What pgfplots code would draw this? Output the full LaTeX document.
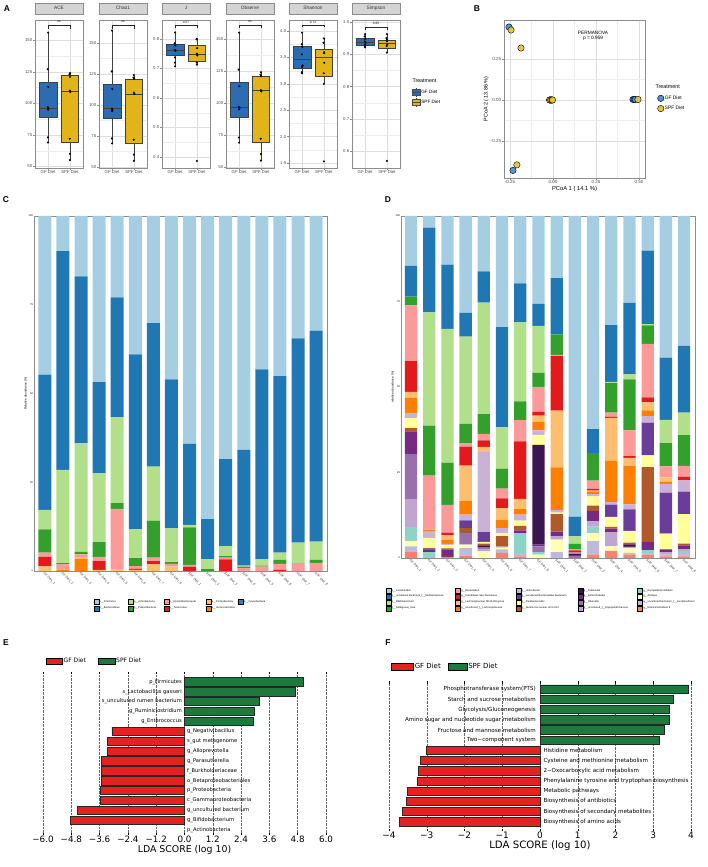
\documentclass[border=0pt]{standalone}
\usepackage{fontspec}
\setmainfont{Liberation Sans}
\newfontfamily\djv{DejaVu Sans}
\usepackage{pgfplots}
\pgfplotsset{compat=1.18}
\usepackage{pgfplotstable}
\usepgfplotslibrary{statistics}
\newcommand\fs[1]{\fontsize{#1}{#1}\selectfont}

\definecolor{gfbox}{HTML}{2B6CB3}
\definecolor{spfbox}{HTML}{E2B418}
\definecolor{gfpt}{HTML}{4C8ED6}
\definecolor{spfpt}{HTML}{E9C23A}
\definecolor{cFi}{HTML}{A6CEE3}
\definecolor{cBa}{HTML}{1F78B4}
\definecolor{cAc}{HTML}{B2DF8A}
\definecolor{cPa}{HTML}{33A02C}
\definecolor{cEp}{HTML}{FB9A99}
\definecolor{cTe}{HTML}{E31A1C}
\definecolor{cPr}{HTML}{FDBF6F}
\definecolor{cVe}{HTML}{FF7F00}
\definecolor{cCy}{HTML}{3A7DB8}
\definecolor{dR9}{HTML}{FB8072}
\definecolor{dUB}{HTML}{BEBADA}
\definecolor{dAL}{HTML}{FFFFB3}
\definecolor{dEC}{HTML}{8DD3C7}
\definecolor{dUE}{HTML}{C2A5CF}
\definecolor{dRK}{HTML}{9970AB}
\definecolor{dEN}{HTML}{762A83}
\definecolor{dDU}{HTML}{3B1550}
\definecolor{dRU}{HTML}{B15928}
\definecolor{dPA}{HTML}{FFFF99}
\definecolor{dBD}{HTML}{6A3D9A}
\definecolor{dHE}{HTML}{CAB2D6}
\definecolor{dUL}{HTML}{FF7F00}
\definecolor{dNK}{HTML}{FDBF6F}
\definecolor{dSA}{HTML}{E31A1C}
\definecolor{dBA}{HTML}{FB9A99}
\definecolor{dAM}{HTML}{33A02C}
\definecolor{dBI}{HTML}{B2DF8A}
\definecolor{dMU}{HTML}{1F78B4}
\definecolor{dLA}{HTML}{A6CEE3}
\definecolor{lred}{HTML}{E42320}
\definecolor{lgreen}{HTML}{1E7A3C}

\pgfplotstableread{
x Ve Pr Te Ep Pa Ac Ba Fi
0 0 1.4 2.6 1.2 6.5 5.5 38.1 44.7
1 0.3 0.3 0 1.3 0.3 26.3 61.6 9.9
2 3.5 0.3 0 0.9 0.7 30.6 47.0 17.0
3 0 0.3 2.5 1.2 4.1 19.4 25.7 46.8
4 0 0.4 0 17.1 1.6 24.2 33.8 22.9
5 0 0.3 0.3 0.8 2.2 8.2 49.2 39.0
6 0 1.9 0.9 1.0 10.4 15.2 40.4 30.2
7 0 1.2 0 0.8 0.5 9.5 42.0 46.0
8 0 0 1.2 0.5 10.6 0.7 22.8 64.2
9 0 0 0 0 0.5 2.8 11.3 85.4
10 0 0 3.3 0.5 0.4 2.8 24.5 68.5
11 0 0 0 0.8 0.4 0.3 32.6 65.9
12 0 0 0 1.2 0.3 1.8 53.5 43.2
13 0 0 0.3 1.7 1.1 2.1 49.7 45.1
14 0 0 0 2.2 0 5.8 57.5 34.5
15 0 0 0 2.3 0.8 5.2 59.4 32.3
}\tabC

\pgfplotstableread{
x R9 UB AL EC UE RK EN DU RU PA BD HE UL NK SA BA AM BI MU LA
0 1.7 1.7 1.5 4.2 8.0 13.3 6.6 0 1.0 2.9 0 1.5 4.4 1.8 9.0 16.3 2.5 0 9.0 14.6
1 0 0 0 1.7 0 0 0.8 0.3 0 3.1 0 2.0 0.3 0.3 0 15.6 14.6 33.1 24.8 3.4
2 0.3 0 0 0 0 0 2.2 0 0.3 1.0 0 0.3 1.3 1.2 0.8 8.1 12.4 39.1 18.8 14.2
3 0.7 2.2 1.0 0 0 3.4 0 0 1.5 0 2.2 1.7 3.9 10.4 5.6 1.0 5.6 25.5 7.0 28.3
4 0 0 1.9 0 0.8 0.5 0 0.5 0.5 0.5 2.9 23.4 0 1.5 1.9 1.9 5.8 32.6 9.1 16.2
5 1.5 1.0 0.5 0 0.3 0 0 0 3.1 0.8 0 1.5 2.4 3.4 2.9 2.9 5.8 12.2 29.2 32.5
6 0.5 1.0 0 5.8 0 0 0.8 0 1.3 1.5 0 1.8 1.7 2.9 16.8 6.2 5.5 23.1 11.4 19.7
7 0 0 1.0 0.7 0 1.7 0.5 29.2 0 2.9 0 1.3 2.6 1.7 1.1 7.3 4.1 13.8 6.4 25.7
8 0 1.7 3.7 0 1.0 0 1.3 0 5.1 0.5 0 0.7 12.5 16.6 15.9 0.4 6.0 0 16.4 18.2
9 0 0 0 0 0 0.4 0.5 0.4 0 0 0 0.3 0 0 0.6 0.4 1.5 2.2 5.8 87.9
10 1.0 3.9 2.4 1.9 1.5 0 3.1 0 1.5 2.7 0 0.7 0.6 0.4 0.5 2.4 8.1 0 7.0 62.3
11 2.1 0 1.3 0 4.2 0 1.0 0 0.5 2.9 3.6 0.7 12.2 12.5 0.3 1.2 8.6 0.4 16.6 31.9
12 1.0 0.5 1.5 0 0 0 0.5 0.5 0.5 3.4 6.3 1.5 11.2 2.4 0.5 7.5 14.9 1.5 20.9 25.4
13 1.0 0.5 0 0.8 0 0 2.4 0 21.9 3.4 9.6 1.9 1.7 2.3 1.5 15.6 5.4 0.4 21.5 10.1
14 0.5 0.5 0 0 0.7 0 0.8 0 0 4.6 12.0 2.6 0.6 1.3 0 3.2 6.8 6.8 18.2 41.4
15 0.5 1.0 0 0.5 0.5 0 1.2 0 0.5 8.6 6.6 3.3 0 0 1.0 3.2 9.0 6.6 19.5 38.0
}\tabD

\tikzset{
  pv/.style={font=\fs{3.2}, inner sep=0pt},
  labE/.style={font=\djv\fs{5.2}, inner sep=0pt},
  labF/.style={font=\djv\fs{5.6}, inner sep=0pt},
}
\pgfplotsset{
  Ast/.style={scale only axis, width=48bp, height=148bp, anchor=south west,
    xmin=0.4, xmax=2.6, xtick={1,2}, xticklabels={GF Diet,SPF Diet},
    tick pos=left, tick align=outside, major tick length=1.6bp, minor tick length=0bp,
    xmajorgrids, ymajorgrids, yminorgrids, minor y tick num=1,
    major grid style={black!13, line width=0.45pt},
    minor grid style={black!7, line width=0.3pt},
    axis line style={black!45, line width=0.45pt},
    tick style={black!45, line width=0.35pt},
    tick label style={font=\fs{4.3}, text=black!70, inner sep=1bp},
    title style={at={(0.5,1)}, anchor=south, yshift=0pt, fill=black!17, draw=black!45, line width=0.45pt, minimum width=48bp, minimum height=11bp, inner sep=0pt, font=\fs{4.8}, text=black!80},
    clip=false},
  gfb/.style={fill=gfbox, draw=black!75, line width=0.4pt, solid},
  spfb/.style={fill=spfbox, draw=black!75, line width=0.4pt, solid},
  dots/.style={only marks, mark=*, mark size=0.85bp, mark options={draw=none, fill=black!85}},
  brk/.style={black!85, line width=0.35pt, mark=none},
  legax/.style={hide axis, scale only axis, width=1bp, height=1bp, at={(0bp,0bp)}, anchor=south west, xmin=0, xmax=1, ymin=0, ymax=1},
  sw/.style={legend image code/.code={\fill (0bp,-2.5bp) rectangle (5bp,2.5bp);}},
  boxkey/.style={legend image code/.code={\draw[black!70, line width=0.4pt] (4bp,-4.5bp)--(4bp,4.5bp); \filldraw[draw=black!70, line width=0.4pt] (0bp,-3bp) rectangle (8bp,3bp); \draw[black!70, line width=0.4pt] (0bp,0bp)--(8bp,0bp);}},
  ptkey/.style={legend image code/.code={\fill (3.3bp,0bp) circle (3.2bp);}},
  barst/.style={scale only axis, anchor=south west, ybar stacked, ymin=0, ymax=100,
    ytick={0,25,50,75,100}, yticklabels={0,25,50,75,100},
    xtick={0,...,15},
    xticklabels={GF Diet\_1,GF Diet\_2,GF Diet\_3,GF Diet\_4,GF Diet\_5,GF Diet\_6,GF Diet\_7,GF Diet\_8,SPF Diet\_1,SPF Diet\_2,SPF Diet\_3,SPF Diet\_4,SPF Diet\_5,SPF Diet\_6,SPF Diet\_7,SPF Diet\_8},
    xticklabel style={rotate=-45, anchor=north west, font=\fs{3.4}, inner sep=0.5bp, text=black!75},
    yticklabel style={font=\fs{2.6}, inner sep=0.8bp},
    tick pos=left, major tick length=1bp,
    axis line style={black!45, line width=0.4pt}, tick style={black!45, line width=0.3pt},
    ylabel style={font=\fs{3.1}, inner sep=0.5bp}},
  lefse/.style={scale only axis, anchor=south west, y dir=reverse, ytick=\empty,
    xmajorgrids, major grid style={densely dotted, black!60, line width=0.45pt},
    axis line style={draw=none}, tick style={black, line width=0.5pt},
    major tick length=2.5bp, tick align=inside, xlabel={LDA SCORE (log 10)}, clip=false},
  lbar/.style={xbar, bar shift=0pt, draw=black!85, line width=0.6pt},
}

\begin{document}
\begin{tikzpicture}
\path[use as bounding box] (0,0) rectangle (708bp,867bp);

% ---------------- Panel A ----------------
\begin{axis}[Ast, at={(35bp,699bp)}, title={ACE}, ymin=48.8, ymax=166, ytick={50,75,100,125,150}, yticklabels={50,75,100,125,150}]
\addplot[gfb, boxplot prepared={draw direction=y, draw position=1, lower whisker=69, lower quartile=89, median=96.5, upper quartile=117, upper whisker=156, box extend=0.8, whisker extend=0}] coordinates {};
\addplot[spfb, boxplot prepared={draw direction=y, draw position=2, lower whisker=55, lower quartile=69, median=110, upper quartile=122, upper whisker=124, box extend=0.8, whisker extend=0}] coordinates {};
\addplot[dots] coordinates {(1.00,156)(0.98,127)(1.01,113)(0.99,97)(1.02,96)(1.00,95)(0.99,73)(1.00,69)(2.00,124)(1.98,123)(2.01,121)(2.00,110)(2.02,109)(1.99,72)(2.00,60)(2.00,55)};
\addplot[brk] coordinates {(1,159)(1,162)(2,162)(2,159)};
\node[pv] at (axis cs:1.5,164.4) {ns};
\end{axis}

\begin{axis}[Ast, at={(99bp,699bp)}, title={Chao1}, ymin=49.2, ymax=168.5, ytick={50,75,100,125,150}, yticklabels={50,75,100,125,150}]
\addplot[gfb, boxplot prepared={draw direction=y, draw position=1, lower whisker=69, lower quartile=89, median=97, upper quartile=117, upper whisker=160, box extend=0.8, whisker extend=0}] coordinates {};
\addplot[spfb, boxplot prepared={draw direction=y, draw position=2, lower whisker=55, lower quartile=69, median=109, upper quartile=121, upper whisker=124, box extend=0.8, whisker extend=0}] coordinates {};
\addplot[dots] coordinates {(1.00,160)(0.98,127)(1.01,113)(0.99,97)(1.02,96)(1.00,95)(0.99,73)(1.00,69)(2.00,124)(1.98,122)(2.01,121)(2.00,110)(2.02,109)(1.99,72)(2.00,60)(2.00,55)};
\addplot[brk] coordinates {(1,161.5)(1,164.5)(2,164.5)(2,161.5)};
\node[pv] at (axis cs:1.5,167) {ns};
\end{axis}

\begin{axis}[Ast, at={(162bp,699bp)}, title={J}, ymin=0.363, ymax=0.864, ytick={0.4,0.5,0.6,0.7,0.8}, yticklabels={0.4,0.5,0.6,0.7,0.8}]
\addplot[gfb, boxplot prepared={draw direction=y, draw position=1, lower whisker=0.707, lower quartile=0.745, median=0.762, upper quartile=0.782, upper whisker=0.822, box extend=0.8, whisker extend=0}] coordinates {};
\addplot[spfb, boxplot prepared={draw direction=y, draw position=2, lower whisker=0.713, lower quartile=0.726, median=0.748, upper quartile=0.779, upper whisker=0.800, box extend=0.8, whisker extend=0}] coordinates {};
\addplot[dots] coordinates {(1.00,0.822)(0.98,0.785)(1.01,0.778)(0.99,0.762)(1.02,0.760)(1.00,0.737)(0.99,0.720)(1.00,0.707)(2.00,0.800)(1.98,0.799)(2.01,0.769)(2.00,0.750)(2.02,0.744)(1.99,0.720)(2.00,0.713)(2.00,0.387)};
\addplot[brk] coordinates {(1,0.836)(1,0.847)(2,0.847)(2,0.836)};
\node[pv] at (axis cs:1.5,0.857) {0.57};
\end{axis}

\begin{axis}[Ast, at={(226bp,699bp)}, title={Observe}, ymin=49.2, ymax=164.8, ytick={50,75,100,125,150}, yticklabels={50,75,100,125,150}]
\addplot[gfb, boxplot prepared={draw direction=y, draw position=1, lower whisker=69, lower quartile=89, median=96.5, upper quartile=116, upper whisker=155, box extend=0.8, whisker extend=0}] coordinates {};
\addplot[spfb, boxplot prepared={draw direction=y, draw position=2, lower whisker=55, lower quartile=69, median=110, upper quartile=121, upper whisker=124, box extend=0.8, whisker extend=0}] coordinates {};
\addplot[dots] coordinates {(1.00,155)(0.98,126)(1.01,113)(0.99,97)(1.02,96)(1.00,95)(0.99,73)(1.00,69)(2.00,124)(1.98,122)(2.01,121)(2.00,110)(2.02,109)(1.99,72)(2.00,60)(2.00,55)};
\addplot[brk] coordinates {(1,158.5)(1,161)(2,161)(2,158.5)};
\node[pv] at (axis cs:1.5,163.3) {ns};
\end{axis}

\begin{axis}[Ast, at={(289bp,699bp)}, title={Shannon}, ymin=1.406, ymax=4.21, ytick={1.5,2.0,2.5,3.0,3.5,4.0}, yticklabels={1.5,2.0,2.5,3.0,3.5,4.0}]
\addplot[gfb, boxplot prepared={draw direction=y, draw position=1, lower whisker=3.20, lower quartile=3.30, median=3.46, upper quartile=3.71, upper whisker=3.97, box extend=0.8, whisker extend=0}] coordinates {};
\addplot[spfb, boxplot prepared={draw direction=y, draw position=2, lower whisker=3.00, lower quartile=3.14, median=3.50, upper quartile=3.65, upper whisker=3.86, box extend=0.8, whisker extend=0}] coordinates {};
\addplot[dots] coordinates {(1.00,3.97)(0.98,3.75)(1.01,3.70)(0.99,3.56)(1.02,3.35)(1.00,3.32)(0.99,3.22)(1.00,3.20)(2.00,3.86)(1.98,3.78)(2.01,3.60)(2.00,3.58)(2.02,3.40)(1.99,3.20)(2.00,3.00)(2.00,1.53)};
\addplot[brk] coordinates {(1,4.07)(1,4.11)(2,4.11)(2,4.07)};
\node[pv] at (axis cs:1.5,4.16) {0.72};
\end{axis}

\begin{axis}[Ast, at={(352bp,699bp)}, title={Simpson}, ymin=0.548, ymax=1.006, ytick={0.6,0.7,0.8,0.9,1.0}, yticklabels={0.6,0.7,0.8,0.9,1.0}]
\addplot[gfb, boxplot prepared={draw direction=y, draw position=1, lower whisker=0.921, lower quartile=0.928, median=0.937, upper quartile=0.951, upper whisker=0.962, box extend=0.8, whisker extend=0}] coordinates {};
\addplot[spfb, boxplot prepared={draw direction=y, draw position=2, lower whisker=0.905, lower quartile=0.920, median=0.935, upper quartile=0.943, upper whisker=0.962, box extend=0.8, whisker extend=0}] coordinates {};
\addplot[dots] coordinates {(1.00,0.962)(0.98,0.955)(1.01,0.947)(0.99,0.940)(1.02,0.935)(1.00,0.930)(0.99,0.925)(1.00,0.921)(2.00,0.962)(1.98,0.950)(2.01,0.945)(2.00,0.940)(2.02,0.930)(1.99,0.925)(2.00,0.905)(2.00,0.570)};
\addplot[brk] coordinates {(1,0.975)(1,0.985)(2,0.985)(2,0.975)};
\node[pv] at (axis cs:1.5,0.995) {0.65};
\end{axis}

\node[anchor=west, font=\fs{5.3}] at (409bp,786bp) {Treatment};
\begin{axis}[legax, legend style={at={(412,779)}, anchor=north west, draw=none, fill=none, inner sep=0pt, font=\fs{4.7}, nodes={inner sep=0.6bp}, row sep=0bp, legend cell align=left}]
\addlegendimage{boxkey, fill=gfbox}\addlegendentry{GF Diet}
\addlegendimage{boxkey, fill=spfbox}\addlegendentry{SPF Diet}
\end{axis}

% ---------------- Panel B ----------------
\begin{axis}[scale only axis, at={(504bp,689bp)}, anchor=south west, width=141bp, height=158bp,
  xmin=-0.285, xmax=0.535, ymin=-0.476, ymax=0.488,
  xtick={-0.25,0,0.25,0.5}, xticklabels={-0.25,0.00,0.25,0.50},
  ytick={-0.25,0,0.25}, yticklabels={-0.25,0.00,0.25},
  minor tick num=1, grid=both, tick pos=left, tick align=outside, major tick length=1.6bp, minor tick length=0bp,
  major grid style={black!13, line width=0.45pt}, minor grid style={black!7, line width=0.3pt},
  axis line style={black!45, line width=0.45pt}, tick style={black!45, line width=0.35pt},
  tick label style={font=\fs{4.5}, text=black!70, inner sep=1bp},
  xlabel={PCoA 1 ( 14.1 \%)}, ylabel={PCoA 2 ( 13.86 \%)},
  xlabel style={font=\fs{5.8}, inner sep=1bp}, ylabel style={font=\fs{5.4}, inner sep=1bp}]
\addplot[only marks, mark=*, mark size=3.2bp, mark options={draw=none, fill=gfpt, fill opacity=0.95}] coordinates {(-0.256,0.445)(-0.233,-0.430)(0.465,0.003)(0.472,0.003)(0.478,0.003)(-0.018,0.0)(-0.012,0.0)(-0.008,0.0)};
\addplot[only marks, mark=*, mark size=3.2bp, mark options={draw=none, fill=spfpt, fill opacity=0.95}] coordinates {(-0.244,0.427)(-0.186,0.317)(-0.210,-0.396)(0.494,0.003)(-0.020,0.0)(-0.013,0.0)(-0.006,0.0)(-0.003,0.0)};
\node[font=\fs{4.8}, align=center] at (axis cs:0.233,0.393) {PERMANOVA\\p = 0.959};
\end{axis}

\node[anchor=west, font=\fs{5.4}] at (652bp,780bp) {Treatment};
\begin{axis}[legax, legend style={at={(657,772)}, anchor=north west, draw=none, fill=none, inner sep=0pt, font=\fs{4.9}, nodes={inner sep=0.6bp}, row sep=3.4bp, legend cell align=left}]
\addlegendimage{ptkey, fill=gfpt}\addlegendentry{GF Diet}
\addlegendimage{ptkey, fill=spfpt}\addlegendentry{SPF Diet}
\end{axis}

% ---------------- Panel C ----------------
\begin{axis}[barst, at={(34bp,296bp)}, width=293bp, height=355bp, xmin=-0.6, xmax=15.6, bar width=0.72, ylabel={Relative abundance (\%)}]
\addplot[fill=cVe, draw=none] table[x=x, y=Ve]{\tabC};
\addplot[fill=cPr, draw=none] table[x=x, y=Pr]{\tabC};
\addplot[fill=cTe, draw=none] table[x=x, y=Te]{\tabC};
\addplot[fill=cEp, draw=none] table[x=x, y=Ep]{\tabC};
\addplot[fill=cPa, draw=none] table[x=x, y=Pa]{\tabC};
\addplot[fill=cAc, draw=none] table[x=x, y=Ac]{\tabC};
\addplot[fill=cBa, draw=none] table[x=x, y=Ba]{\tabC};
\addplot[fill=cFi, draw=none] table[x=x, y=Fi]{\tabC};
\end{axis}

\begin{axis}[legax, legend columns=5, legend style={at={(93.5,268)}, anchor=north west, draw=none, fill=none, inner sep=0pt, font=\fs{2.6}, nodes={inner sep=0.5bp}, column sep=0bp, row sep=1bp, legend cell align=left}]
\addlegendimage{sw, fill=cFi}\addlegendentry{\makebox[28bp][l]{p\_\_Firmicutes}}
\addlegendimage{sw, fill=cAc}\addlegendentry{\makebox[29bp][l]{p\_\_Actinobacteria}}
\addlegendimage{sw, fill=cEp}\addlegendentry{\makebox[36bp][l]{p\_\_Epsilonbacteraeota}}
\addlegendimage{sw, fill=cPr}\addlegendentry{\makebox[26bp][l]{p\_\_Proteobacteria}}
\addlegendimage{sw, fill=cCy}\addlegendentry{p\_\_Cyanobacteria}
\addlegendimage{sw, fill=cBa}\addlegendentry{\makebox[28bp][l]{p\_\_Bacteroidetes}}
\addlegendimage{sw, fill=cPa}\addlegendentry{\makebox[29bp][l]{p\_\_Patescibacteria}}
\addlegendimage{sw, fill=cTe}\addlegendentry{\makebox[36bp][l]{p\_\_Tenericutes}}
\addlegendimage{sw, fill=cVe}\addlegendentry{\makebox[26bp][l]{p\_\_Verrucomicrobia}}
\end{axis}

% ---------------- Panel D ----------------
\begin{axis}[barst, at={(401bp,309bp)}, width=294bp, height=342bp, xmin=-0.55, xmax=15.6, bar width=0.675, ylabel={relative abundance (\%)}]
\addplot[fill=dR9, draw=none] table[x=x, y=R9]{\tabD};
\addplot[fill=dUB, draw=none] table[x=x, y=UB]{\tabD};
\addplot[fill=dAL, draw=none] table[x=x, y=AL]{\tabD};
\addplot[fill=dEC, draw=none] table[x=x, y=EC]{\tabD};
\addplot[fill=dUE, draw=none] table[x=x, y=UE]{\tabD};
\addplot[fill=dRK, draw=none] table[x=x, y=RK]{\tabD};
\addplot[fill=dEN, draw=none] table[x=x, y=EN]{\tabD};
\addplot[fill=dDU, draw=none] table[x=x, y=DU]{\tabD};
\addplot[fill=dRU, draw=none] table[x=x, y=RU]{\tabD};
\addplot[fill=dPA, draw=none] table[x=x, y=PA]{\tabD};
\addplot[fill=dBD, draw=none] table[x=x, y=BD]{\tabD};
\addplot[fill=dHE, draw=none] table[x=x, y=HE]{\tabD};
\addplot[fill=dUL, draw=none] table[x=x, y=UL]{\tabD};
\addplot[fill=dNK, draw=none] table[x=x, y=NK]{\tabD};
\addplot[fill=dSA, draw=none] table[x=x, y=SA]{\tabD};
\addplot[fill=dBA, draw=none] table[x=x, y=BA]{\tabD};
\addplot[fill=dAM, draw=none] table[x=x, y=AM]{\tabD};
\addplot[fill=dBI, draw=none] table[x=x, y=BI]{\tabD};
\addplot[fill=dMU, draw=none] table[x=x, y=MU]{\tabD};
\addplot[fill=dLA, draw=none] table[x=x, y=LA]{\tabD};
\end{axis}

\begin{axis}[legax, legend columns=5, legend style={at={(385.5,279)}, anchor=north west, draw=none, fill=none, inner sep=0pt, font=\fs{2.6}, nodes={inner sep=0.5bp}, column sep=0bp, row sep=0.5bp, legend cell align=left}]
\addlegendimage{sw, fill=dLA}\addlegendentry{\makebox[63bp][l]{g\_\_Lactobacillus}}
\addlegendimage{sw, fill=dBA}\addlegendentry{\makebox[54bp][l]{g\_\_Bacteroides}}
\addlegendimage{sw, fill=dHE}\addlegendentry{\makebox[56bp][l]{g\_\_Helicobacter}}
\addlegendimage{sw, fill=dDU}\addlegendentry{\makebox[53bp][l]{g\_\_Dubosiella}}
\addlegendimage{sw, fill=dEC}\addlegendentry{g\_\_Erysipelatoclostridium}
\addlegendimage{sw, fill=dMU}\addlegendentry{\makebox[63bp][l]{g\_\_uncultured bacterium\_f\_\_Muribaculaceae}}
\addlegendimage{sw, fill=dSA}\addlegendentry{\makebox[54bp][l]{g\_\_Candidatus Saccharimonas}}
\addlegendimage{sw, fill=dBD}\addlegendentry{\makebox[56bp][l]{g\_\_uncultured Bacteroidales bacterium}}
\addlegendimage{sw, fill=dEN}\addlegendentry{\makebox[53bp][l]{g\_\_Enterorhabdus}}
\addlegendimage{sw, fill=dAL}\addlegendentry{g\_\_Alistipes}
\addlegendimage{sw, fill=dBI}\addlegendentry{\makebox[63bp][l]{g\_\_Bifidobacterium}}
\addlegendimage{sw, fill=dNK}\addlegendentry{\makebox[54bp][l]{g\_\_Lachnospiraceae NK4A136 group}}
\addlegendimage{sw, fill=dPA}\addlegendentry{\makebox[56bp][l]{g\_\_Parabacteroides}}
\addlegendimage{sw, fill=dRK}\addlegendentry{\makebox[53bp][l]{g\_\_Rikenella}}
\addlegendimage{sw, fill=dUB}\addlegendentry{g\_\_uncultured bacterium\_f\_\_uncultured bact}
\addlegendimage{sw, fill=dAM}\addlegendentry{\makebox[63bp][l]{g\_\_Ambiguous\_taxa}}
\addlegendimage{sw, fill=dUL}\addlegendentry{\makebox[54bp][l]{g\_\_uncultured\_f\_\_Lachnospiraceae}}
\addlegendimage{sw, fill=dRU}\addlegendentry{\makebox[56bp][l]{g\_\_Ruminococcaceae UCG-014}}
\addlegendimage{sw, fill=dUE}\addlegendentry{\makebox[53bp][l]{g\_\_uncultured\_f\_\_Erysipelotrichaceae}}
\addlegendimage{sw, fill=dR9}\addlegendentry{g\_\_Ruminiclostridium 9}
\end{axis}

% ---------------- Panel E ----------------
\begin{axis}[lefse, at={(43bp,32bp)}, width=283bp, height=163bp, xmin=-6, xmax=6, ymin=0, ymax=16.5,
  xtick={-6,-4.8,-3.6,-2.4,-1.2,0,1.2,2.4,3.6,4.8,6},
  xticklabels={−6.0,−4.8,−3.6,−2.4,−1.2,0.0,1.2,2.4,3.6,4.8,6.0},
  xticklabel style={font=\djv\fs{8.8}, inner sep=1bp}, xlabel style={font=\djv\fs{9.4}, inner sep=1bp}]
\addplot[lbar, bar width=0.84, fill=lred] coordinates {(-3.08,6)(-3.27,7)(-3.27,8)(-3.51,9)(-3.51,10)(-3.51,11)(-3.55,12)(-3.55,13)(-4.54,14)(-4.83,15)};
\addplot[lbar, bar width=0.84, fill=lgreen] coordinates {(5.05,1)(4.70,2)(3.17,3)(2.97,4)(2.93,5)};
\node[labE, anchor=east, xshift=-2.5bp] at (axis cs:0,1) {p\_Firmicutes};
\node[labE, anchor=east, xshift=-2.5bp] at (axis cs:0,2) {s\_Lactobacillus gasseri};
\node[labE, anchor=east, xshift=-2.5bp] at (axis cs:0,3) {s\_uncultured rumen bacterium};
\node[labE, anchor=east, xshift=-2.5bp] at (axis cs:0,4) {g\_Ruminiclostridium};
\node[labE, anchor=east, xshift=-2.5bp] at (axis cs:0,5) {g\_Enterococcus};
\node[labE, anchor=west, xshift=2.5bp] at (axis cs:0,6) {g\_Negativibacillus};
\node[labE, anchor=west, xshift=2.5bp] at (axis cs:0,7) {s\_gut metagenome};
\node[labE, anchor=west, xshift=2.5bp] at (axis cs:0,8) {g\_Alloprevotella};
\node[labE, anchor=west, xshift=2.5bp] at (axis cs:0,9) {g\_Parasutterella};
\node[labE, anchor=west, xshift=2.5bp] at (axis cs:0,10) {f\_Burkholderiaceae};
\node[labE, anchor=west, xshift=2.5bp] at (axis cs:0,11) {o\_Betaproteobacteriales};
\node[labE, anchor=west, xshift=2.5bp] at (axis cs:0,12) {p\_Proteobacteria};
\node[labE, anchor=west, xshift=2.5bp] at (axis cs:0,13) {c\_Gammaproteobacteria};
\node[labE, anchor=west, xshift=2.5bp] at (axis cs:0,14) {g\_uncultured bacterium};
\node[labE, anchor=west, xshift=2.5bp] at (axis cs:0,15) {g\_Bifidobacterium};
\node[labE, anchor=west, xshift=2.5bp] at (axis cs:0,16) {p\_Actinobacteria};
\end{axis}

\begin{axis}[legax, legend columns=2, legend style={at={(46,206)}, anchor=west, draw=none, fill=none, inner sep=0pt, font=\djv\fs{6}, nodes={inner sep=1bp}, column sep=0bp, legend cell align=left}]
\addlegendimage{legend image code/.code={\filldraw[fill=lred, draw=black, line width=0.5pt] (0bp,-3bp) rectangle (16bp,3bp);}}
\addlegendentry{\makebox[33bp][l]{GF Diet}}
\addlegendimage{legend image code/.code={\filldraw[fill=lgreen, draw=black, line width=0.5pt] (0bp,-3bp) rectangle (17bp,3bp);}}
\addlegendentry{SPF Diet}
\end{axis}

% ---------------- Panel F ----------------
\begin{axis}[lefse, at={(389bp,36bp)}, width=302bp, height=150bp, xmin=-4, xmax=4, ymin=0.2, ymax=14.9,
  xtick={-4,-3,-2,-1,0,1,2,3,4},
  xticklabels={−4,−3,−2,−1,0,1,2,3,4},
  xticklabel style={font=\djv\fs{9}, inner sep=1bp}, xlabel style={font=\djv\fs{10.2}, inner sep=1bp}]
\addplot[lbar, bar width=0.82, fill=lred] coordinates {(-3.01,7)(-3.16,8)(-3.23,9)(-3.24,10)(-3.51,11)(-3.54,12)(-3.64,13)(-3.73,14)};
\addplot[lbar, bar width=0.82, fill=lgreen] coordinates {(3.94,1)(3.54,2)(3.43,3)(3.43,4)(3.28,5)(3.15,6)};
\node[labF, anchor=east, xshift=-4bp] at (axis cs:0,1) {Phosphotransferase system(PTS)};
\node[labF, anchor=east, xshift=-4bp] at (axis cs:0,2) {Starch and sucrose metabolism};
\node[labF, anchor=east, xshift=-4bp] at (axis cs:0,3) {Glycolysis/Gluconeogenesis};
\node[labF, anchor=east, xshift=-4bp] at (axis cs:0,4) {Amino sugar and nucleotide sugar metabolism};
\node[labF, anchor=east, xshift=-4bp] at (axis cs:0,5) {Fructose and mannose metabolism};
\node[labF, anchor=east, xshift=-4bp] at (axis cs:0,6) {Two−component system};
\node[labF, anchor=west, xshift=3.3bp] at (axis cs:0,7) {Histidine metabolism};
\node[labF, anchor=west, xshift=3.3bp] at (axis cs:0,8) {Cysteine and methionine metabolism};
\node[labF, anchor=west, xshift=3.3bp] at (axis cs:0,9) {2−Oxocarboxylic acid metabolism};
\node[labF, anchor=west, xshift=3.3bp] at (axis cs:0,10) {Phenylalanine tyrosine and tryptophan biosynthesis};
\node[labF, anchor=west, xshift=3.3bp] at (axis cs:0,11) {Metabolic pathways};
\node[labF, anchor=west, xshift=3.3bp] at (axis cs:0,12) {Biosynthesis of antibiotics};
\node[labF, anchor=west, xshift=3.3bp] at (axis cs:0,13) {Biosynthesis of secondary metabolites};
\node[labF, anchor=west, xshift=3.3bp] at (axis cs:0,14) {Biosynthesis of amino acids};
\end{axis}

\begin{axis}[legax, legend columns=2, legend style={at={(391,200)}, anchor=west, draw=none, fill=none, inner sep=0pt, font=\djv\fs{7}, nodes={inner sep=1bp}, column sep=0bp, legend cell align=left}]
\addlegendimage{legend image code/.code={\filldraw[fill=lred, draw=black, line width=0.5pt] (0bp,-3.5bp) rectangle (22bp,3.5bp);}}
\addlegendentry{\makebox[32bp][l]{GF Diet}}
\addlegendimage{legend image code/.code={\filldraw[fill=lgreen, draw=black, line width=0.5pt] (0bp,-3.5bp) rectangle (19bp,3.5bp);}}
\addlegendentry{SPF Diet}
\end{axis}

% panel letters
\node[font=\bfseries\fs{8.5}] at (7bp,858bp) {A};
\node[font=\bfseries\fs{8.5}] at (477bp,858bp) {B};
\node[font=\bfseries\fs{8.5}] at (6bp,667bp) {C};
\node[font=\bfseries\fs{8.5}] at (388bp,667bp) {D};
\node[font=\bfseries\fs{8.5}] at (6bp,224bp) {E};
\node[font=\bfseries\fs{8.5}] at (388bp,224bp) {F};
\end{tikzpicture}
\end{document}
